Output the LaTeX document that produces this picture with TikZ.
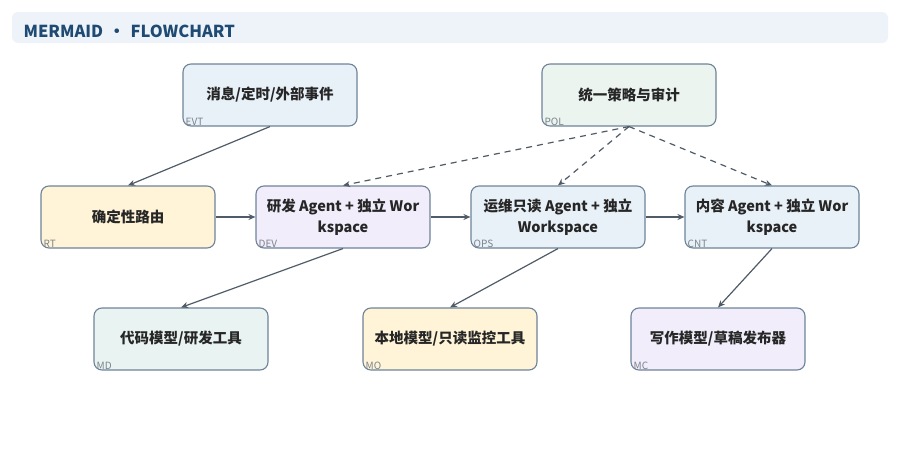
\documentclass[tikz,border=0pt]{standalone}
\usepackage{fontspec}
\setmainfont{Noto Sans CJK SC}
\usetikzlibrary{arrows.meta}
\definecolor{hdrfill}{HTML}{EEF3F9}
\definecolor{hdrtext}{HTML}{1E4A73}
\definecolor{edge}{HTML}{4F5B66}
\definecolor{border}{HTML}{6E8398}
\definecolor{tag}{HTML}{7C838C}
\definecolor{blue}{HTML}{E8F0F8}
\definecolor{green}{HTML}{EBF4EF}
\definecolor{yellow}{HTML}{FFF4D8}
\definecolor{lav}{HTML}{F1EDFA}
\definecolor{teal}{HTML}{E9F4F2}
\begin{document}
\begin{tikzpicture}[x=1pt, y=-1pt, >={Stealth[length=7pt,width=6pt]},
    box/.style={draw=border, line width=1.1pt, rounded corners=8pt,
        minimum width=174pt, minimum height=62pt, align=center,
        font=\fontsize{14.5}{20.5}\selectfont\bfseries, text=black!85},
    tagtext/.style={anchor=south west, inner xsep=3pt, inner ysep=1pt, text=tag,
        font=\fontsize{10}{11}\selectfont},
    link/.style={draw=edge, line width=1.2pt}]
        \useasboundingbox (0,0) rectangle (900,474);
        \fill[hdrfill, rounded corners=6pt] (12,12) rectangle (888,43);
        \node[anchor=west, text=hdrtext, font=\fontsize{16.5}{19}\selectfont\bfseries] at(20, 31) (title) {MERMAID\,\,•\,\,FLOWCHART};

        \node[box, fill=blue]   at(270, 95)  (evt) {消息/定时/外部事件};
        \node[box, fill=green]  at(629, 95)  (pol) {统一策略与审计};
        \node[box, fill=yellow] at(128, 217) (rt)  {确定性路由};
        \node[box, fill=lav]    at(343, 217) (dev) {研发 Agent + 独立 Wor\\kspace};
        \node[box, fill=blue]   at(558, 217) (ops) {运维只读 Agent + 独立\\Workspace};
        \node[box, fill=blue]   at(772, 217) (cnt) {内容 Agent + 独立 Wor\\kspace};
        \node[box, fill=teal]   at(181, 339) (md)  {代码模型/研发工具};
        \node[box, fill=yellow] at(450, 339) (mo)  {本地模型/只读监控工具};
        \node[box, fill=lav]    at(718, 339) (mc)  {写作模型/草稿发布器};

        \node[tagtext] at(evt.south west) {EVT};
        \node[tagtext] at(pol.south west) {POL};
        \node[tagtext] at(rt.south west)  {RT};
        \node[tagtext] at(dev.south west) {DEV};
        \node[tagtext] at(ops.south west) {OPS};
        \node[tagtext] at(cnt.south west) {CNT};
        \node[tagtext] at(md.south west)  {MD};
        \node[tagtext] at(mo.south west)  {MO};
        \node[tagtext] at(mc.south west)  {MC};

        \draw[link, ->] (evt.south) -- (rt.north);
        \draw[link, ->] (rt)  -- (dev);
        \draw[link, ->] (dev) -- (ops);
        \draw[link, ->] (ops) -- (cnt);
        \draw[link, ->, dash pattern=on 6pt off 5pt] (pol.south) -- (dev.north);
        \draw[link, ->, dash pattern=on 6pt off 5pt] (pol.south) -- (ops.north);
        \draw[link, ->, dash pattern=on 6pt off 5pt] (pol.south) -- (cnt.north);
        \draw[link, ->] (dev.south) -- (md.north);
        \draw[link, ->] (ops.south) -- (mo.north);
        \draw[link, ->] (cnt.south) -- (mc.north);
    \end{tikzpicture}
\end{document}
